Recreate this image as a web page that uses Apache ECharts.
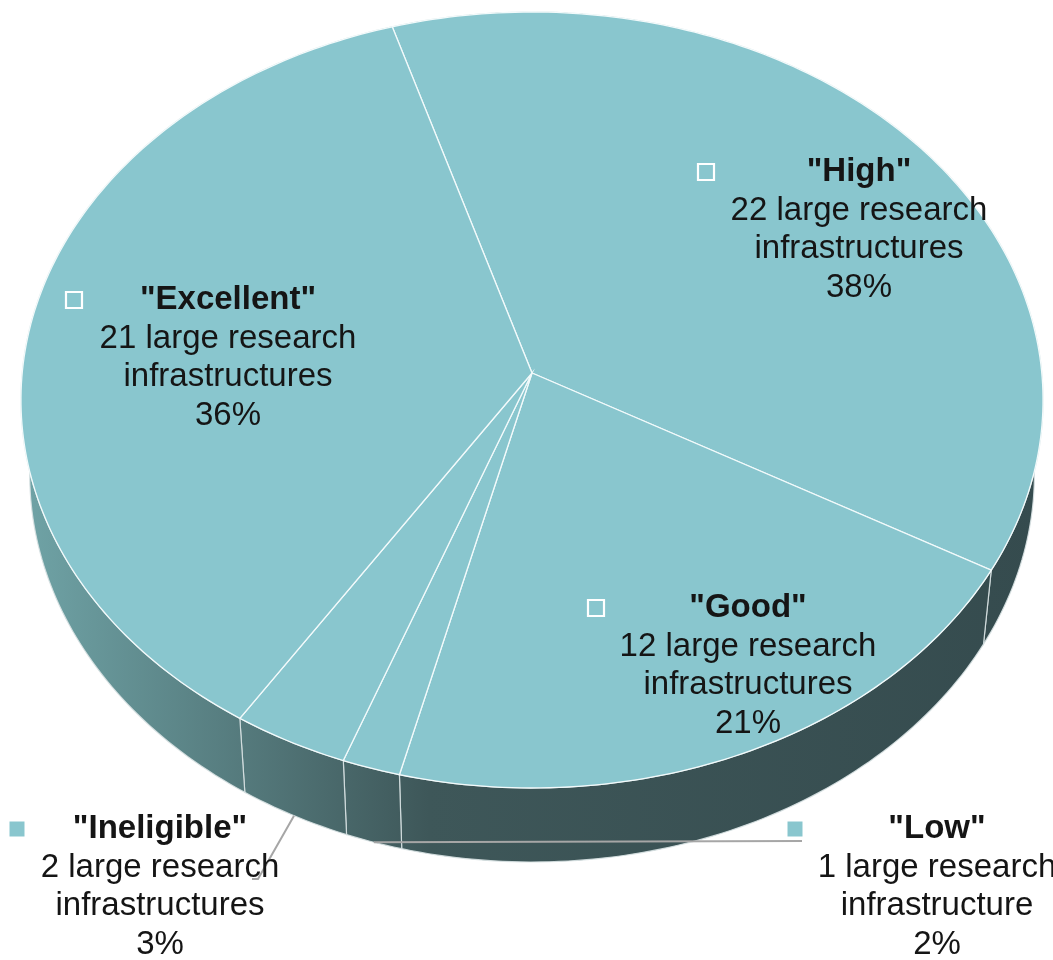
<!DOCTYPE html>
<html>
<head>
<meta charset="utf-8">
<script src="https://cdn.jsdelivr.net/npm/echarts@6/dist/echarts.min.js"></script>
<style>
html,body{margin:0;padding:0;background:#ffffff;}
#chart{width:1053px;height:960px;}
</style>
</head>
<body>
<div id="chart"></div>
<script>
// ---- data ----
const categories = ['High', 'Good', 'Low', 'Ineligible', 'Excellent'];
const counts = [22, 12, 1, 2, 21];

// ---- layout (pixels, not data) ----
const GEO = { x0: 532, y0: 373, A: 509.8, B: 386.1, k: 0.0696, depth: 74, sx: 0.983, sxc: 535, start: -17 };
// label anchor: [center x, title y, marker x, inside?]
const labelLayout = [
  [859, 172, 706, true],
  [748, 608, 596, true],
  [937, 829, 795, false],
  [160, 829, 17, false],
  [228, 300, 74, true]
];
// leader line end points for outside labels (index -> points after anchor)
const leaderEnds = { 2: [[802, 841]], 3: [[258, 879], [252, 879]] };

const TOP = '#89c6ce';
const FONT = '"Liberation Sans", Arial, sans-serif';

const total = counts.reduce((a, b) => a + b, 0);
const cum = [];
counts.reduce((acc, v, i) => { cum[i] = acc; return acc + v; }, 0);

function proj(theta, r) {
  const t = theta * Math.PI / 180;
  const u = r * Math.sin(t), v = -r * Math.cos(t);
  const w = 1 - GEO.k * v;
  return [GEO.x0 + GEO.A * u / w, GEO.y0 + GEO.B * v / w];
}
function projBottom(theta) {
  const p = proj(theta, 1);
  return [GEO.sxc + GEO.sx * (p[0] - GEO.sxc), p[1] + GEO.depth];
}

const sideGrad = new echarts.graphic.LinearGradient(20, 0, 1042, 0, [
  { offset: 0, color: '#70a4a7' },
  { offset: 0.4, color: '#3e5759' },
  { offset: 1, color: '#354b4e' }
], true);

function renderItem(params, api) {
  const i = params.dataIndex;
  const val = api.value(0);
  const a0 = GEO.start + 360 * cum[i] / total;
  const a1 = a0 + 360 * val / total;
  const n = Math.max(2, Math.ceil(a1 - a0));
  const top = [], bot = [];
  for (let j = 0; j <= n; j++) {
    const th = a0 + (a1 - a0) * j / n;
    top.push(proj(th, 1));
    bot.push(projBottom(th));
  }
  const apex = proj(0, 0);
  const children = [];
  children.push({
    type: 'polygon', z2: 1,
    shape: { points: top.concat(bot.slice().reverse()) },
    style: { fill: sideGrad, stroke: 'rgba(215,225,226,0.9)', lineWidth: 1.2 }
  });
  children.push({
    type: 'polygon', z2: 10,
    shape: { points: [apex].concat(top) },
    style: { fill: TOP, stroke: '#f2fafb', lineWidth: 1.3 }
  });
  const L = labelLayout[i];
  const name = categories[i];
  const pct = Math.round(val / total * 100);
  children.push({
    type: 'text', z2: 20, x: L[0], y: L[1],
    style: { text: '"' + name + '"', fill: '#151515', fontSize: 33, fontWeight: 'bold', fontFamily: FONT, align: 'center', verticalAlign: 'middle' }
  });
  children.push({
    type: 'text', z2: 20, x: L[0], y: L[1] + 77,
    style: {
      text: val + ' large research\n' + (val === 1 ? 'infrastructure' : 'infrastructures') + '\n' + pct + '%',
      fill: '#151515', fontSize: 33, fontFamily: FONT, lineHeight: 38.5, align: 'center', verticalAlign: 'middle'
    }
  });
  if (L[3]) {
    children.push({ type: 'rect', z2: 20, shape: { x: L[2] - 8, y: L[1] - 8, width: 16, height: 16 }, style: { fill: 'none', stroke: '#ffffff', lineWidth: 2.2 } });
  } else {
    children.push({ type: 'rect', z2: 20, shape: { x: L[2] - 7.5, y: L[1] - 7.5, width: 15, height: 15 }, style: { fill: TOP } });
  }
  if (leaderEnds[i]) {
    const start = projBottom((a0 + a1) / 2);
    children.push({
      type: 'polyline', z2: 15,
      shape: { points: [start].concat(leaderEnds[i]) },
      style: { stroke: '#a6a6a6', lineWidth: 2, fill: 'none' }
    });
  }
  return { type: 'group', children: children };
}

const chart = echarts.init(document.getElementById('chart'));
chart.setOption({
  animation: false,
  backgroundColor: '#ffffff',
  series: [{
    type: 'custom',
    coordinateSystem: 'none',
    renderItem: renderItem,
    data: counts.map((v, i) => ({ name: categories[i], value: [v] }))
  }]
});
</script>
</body>
</html>
